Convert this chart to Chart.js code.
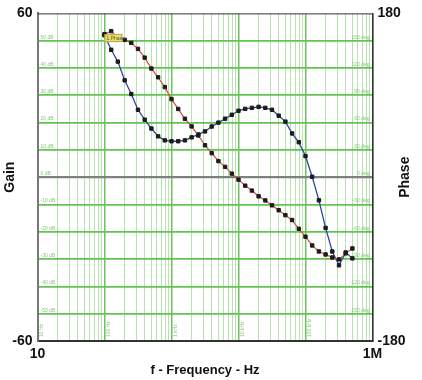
<!DOCTYPE html>
<html lang="en">
<head>
  <meta charset="UTF-8">
  <title>Gain / Phase</title>
  <script src="https://cdn.jsdelivr.net/npm/chart.js"></script>
  <style>
    body { margin: 0; background: #fff; }
    #wrap { width: 422px; height: 380px; }
  </style>
</head>
<body>
  <div id="wrap"><canvas id="bode" width="422" height="380"></canvas></div>
  <script>
    // sweep frequencies (Hz), 10 points per decade
    const freqs = [100, 126, 158, 200, 251, 316, 398, 501, 631, 794,
      1000, 1259, 1585, 1995, 2512, 3162, 3981, 5012, 6310, 7943,
      10000, 12589, 15849, 19953, 25119, 31623, 39811, 50119, 63096, 79433,
      100000, 125893, 158489, 199526, 251189, 316228, 398107, 501187];

    // gain in dB (red trace, left axis)
    const gainDb = [52.4, 53.5, 51.0, 50.3, 49.2, 47.0, 43.8, 39.8, 36.6, 33.0,
      28.6, 25.0, 21.4, 18.6, 15.3, 11.7, 8.8, 5.9, 3.8, 1.3,
      -0.9, -3.1, -4.9, -7.0, -8.5, -10.3, -12.1, -13.9, -15.7, -18.9,
      -21.8, -25.0, -27.2, -28.3, -29.4, -30.1, -27.9, -26.1];

    // phase in degrees (blue trace, right axis)
    const phaseDeg = [156, 140, 127, 106.5, 91.4, 74.1, 63.2, 53.5, 44.9, 40.5,
      39.5, 39.5, 40.5, 43.8, 47.0, 50.3, 55.7, 60.0, 64.3, 68.6,
      73.0, 75.1, 76.2, 77.3, 76.2, 74.1, 67.6, 61.1, 48.1, 38.4,
      23.2, 0.5, -25.4, -55.7, -81.6, -96.8, -82.7, -89.2];

    // axis ranges and labels
    const freqDecades = [10, 100, 1000, 10000, 100000, 1000000];
    const freqEndLabels = { 10: '10', 1000000: '1M' };
    const decadeNames = ['10 Hz', '100 Hz', '1 kHz', '10 kHz', '100 kHz'];
    const gainRange = [-60, 60];
    const phaseRange = [-180, 180];
    const gainGridLabels = [50, 40, 30, 20, 10, 0, -10, -20, -30, -40, -50];
    const phaseGridLabels = [150, 120, 90, 60, 30, 0, -30, -60, -90, -120, -150];

    const boldFont = { family: '"Liberation Sans", Arial, sans-serif', size: 14, weight: 'bold' };

    // grid values for the log axis: 1..9 x each decade
    const logGrid = [];
    freqDecades.forEach((d, i) => {
      if (i === freqDecades.length - 1) { logGrid.push(d); return; }
      for (let m = 1; m < 10; m++) logGrid.push(d * m);
    });

    const isDecade = v => freqDecades.includes(v);

    const decorPlugin = {
      id: 'decor',
      beforeDatasetsDraw(chart) {
        const { ctx, chartArea: a, scales } = chart;
        ctx.save();
        ctx.fillStyle = '#86c97a';
        ctx.font = '5px "Liberation Sans", Arial, sans-serif';
        ctx.textBaseline = 'bottom';
        ctx.textAlign = 'left';
        gainGridLabels.forEach(v => {
          ctx.fillText(v + ' dB', a.left + 3, scales.y.getPixelForValue(v) - 1);
        });
        ctx.textAlign = 'right';
        phaseGridLabels.forEach(v => {
          ctx.fillText(v + ' deg', a.right - 3, scales.y1.getPixelForValue(v) - 1);
        });
        decadeNames.forEach((name, i) => {
          const x = scales.x.getPixelForValue(freqDecades[i]);
          ctx.save();
          ctx.translate(x + 2, a.bottom - 4);
          ctx.rotate(-Math.PI / 2);
          ctx.textAlign = 'left';
          ctx.textBaseline = 'top';
          ctx.fillText(name, 0, 0);
          ctx.restore();
        });
        ctx.restore();
      },
      afterDraw(chart) {
        const { ctx, chartArea: a, scales } = chart;
        ctx.save();
        // frame
        ctx.strokeStyle = '#333';
        ctx.lineWidth = 1;
        ctx.beginPath();
        ctx.moveTo(a.left, a.top + 0.5);
        ctx.lineTo(a.right, a.top + 0.5);
        ctx.stroke();
        // right title, reads bottom to top
        ctx.fillStyle = '#111';
        ctx.font = 'bold 14px "Liberation Sans", Arial, sans-serif';
        ctx.translate(405, (a.top + a.bottom) / 2);
        ctx.rotate(-Math.PI / 2);
        ctx.textAlign = 'center';
        ctx.textBaseline = 'middle';
        ctx.fillText('Phase', 0, 0);
        ctx.restore();

        // marker label at start of sweep
        const px = scales.x.getPixelForValue(freqs[0]);
        const py = scales.y.getPixelForValue(gainDb[0]);
        ctx.save();
        ctx.fillStyle = '#efe25a';
        ctx.strokeStyle = '#9a9a6a';
        ctx.lineWidth = 0.8;
        ctx.fillRect(px, py, 18, 8);
        ctx.strokeRect(px + 0.5, py + 0.5, 17, 7);
        ctx.fillStyle = '#555';
        ctx.font = '5px "Liberation Sans", Arial, sans-serif';
        ctx.textBaseline = 'middle';
        ctx.fillText('1.Phase', px + 2, py + 4.5);
        ctx.restore();
      }
    };

    new Chart(document.getElementById('bode'), {
      type: 'line',
      data: {
        datasets: [{
          label: 'Gain',
          data: freqs.map((f, i) => ({ x: f, y: gainDb[i] })),
          yAxisID: 'y',
          borderColor: '#e0463c',
          borderWidth: 1.2,
          pointStyle: 'rect',
          pointRadius: 2.4,
          pointBorderWidth: 1,
          pointBackgroundColor: '#1c1c1c',
          pointBorderColor: '#1c1c1c',
          tension: 0
        }, {
          label: 'Phase',
          data: freqs.map((f, i) => ({ x: f, y: phaseDeg[i] })),
          yAxisID: 'y1',
          borderColor: '#2f45a6',
          borderWidth: 1.3,
          pointStyle: 'rect',
          pointRadius: 2.4,
          pointBorderWidth: 1,
          pointBackgroundColor: '#1c1c1c',
          pointBorderColor: '#1c1c1c',
          tension: 0
        }]
      },
      options: {
        responsive: false,
        animation: false,
        layout: { padding: { top: 8, left: 0, right: 0, bottom: 0 } },
        plugins: { legend: { display: false }, tooltip: { enabled: false } },
        scales: {
          x: {
            type: 'logarithmic',
            min: freqDecades[0],
            max: freqDecades[freqDecades.length - 1],
            afterBuildTicks: s => { s.ticks = logGrid.map(v => ({ value: v, major: isDecade(v) })); },
            afterFit: s => { s.height = 39; },
            border: { color: '#333', width: 2 },
            grid: {
              drawTicks: false,
              color: c => isDecade(c.tick.value) ? '#6cc25c' : '#b8e3b0',
              lineWidth: c => isDecade(c.tick.value) ? 1.5 : 1
            },
            ticks: {
              autoSkip: false,
              maxRotation: 0,
              padding: 5,
              color: '#111',
              font: boldFont,
              callback: v => freqEndLabels[v] || ''
            },
            title: {
              display: true,
              text: 'f - Frequency - Hz',
              color: '#111',
              font: { family: boldFont.family, size: 13, weight: 'bold' },
              padding: { top: 0, bottom: 2 }
            }
          },
          y: {
            position: 'left',
            min: gainRange[0],
            max: gainRange[1],
            afterFit: s => { s.width = 37.5; },
            border: { color: '#777', width: 2 },
            grid: {
              drawTicks: false,
              color: c => c.tick.value === 0 ? '#808080' : (Math.abs(c.tick.value) === 60 ? 'rgba(0,0,0,0)' : '#62c452'),
              lineWidth: c => c.tick.value === 0 ? 2.2 : 1.8
            },
            ticks: {
              stepSize: 10,
              autoSkip: false,
              padding: 5,
              color: '#111',
              font: boldFont,
              callback: v => (v === gainRange[0] || v === gainRange[1]) ? String(v) : ''
            },
            title: {
              display: true,
              text: 'Gain',
              color: '#111',
              font: boldFont,
              padding: { top: 2, bottom: 0 }
            }
          },
          y1: {
            position: 'right',
            min: phaseRange[0],
            max: phaseRange[1],
            afterFit: s => { s.width = 49.5; },
            border: { color: '#333', width: 1.5 },
            grid: { display: false, drawTicks: false },
            ticks: {
              stepSize: 30,
              autoSkip: false,
              padding: 5,
              color: '#111',
              font: boldFont,
              callback: v => (v === phaseRange[0] || v === phaseRange[1]) ? String(v) : ''
            }
          }
        }
      },
      plugins: [decorPlugin]
    });
  </script>
</body>
</html>
